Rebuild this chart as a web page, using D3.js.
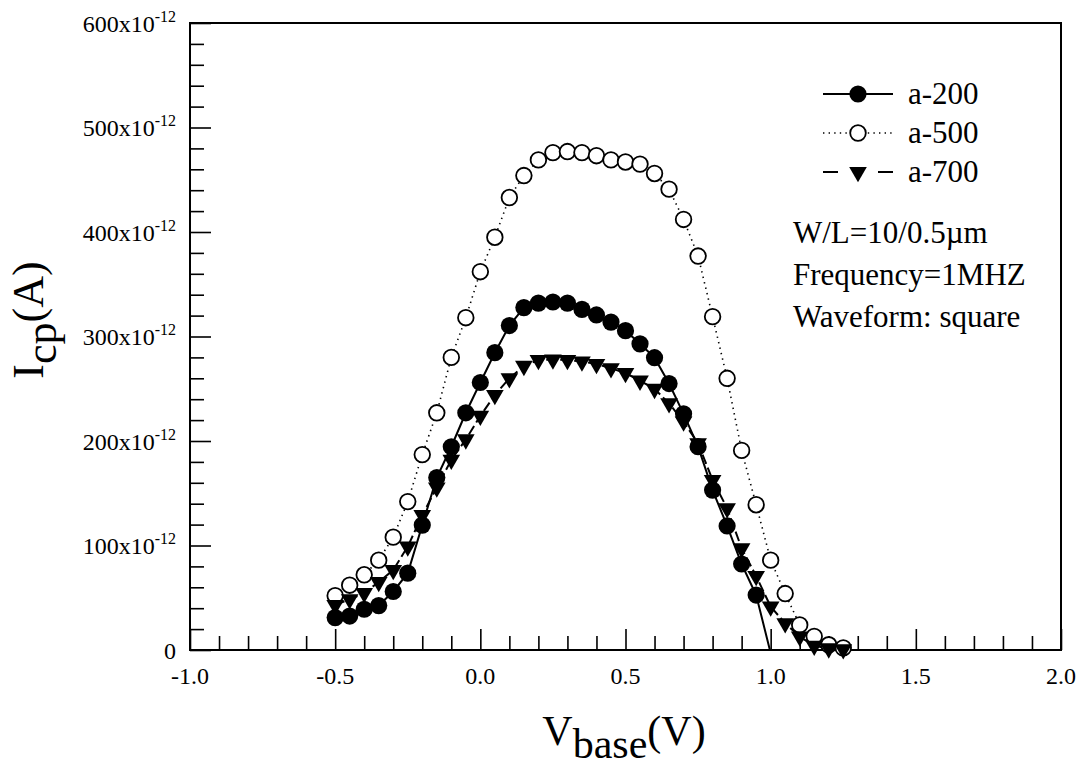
<!DOCTYPE html>
<html>
<head>
<meta charset="utf-8">
<script src="https://cdn.jsdelivr.net/npm/d3@7"></script>
<style>
  body { margin: 0; background: #fff; }
  text { font-family: "Liberation Serif", "Times New Roman", serif; fill: #000; }
</style>
</head>
<body>
<div id="chart"></div>
<script>
// data (current in units of 1e-12 A)
const vbase = [-0.5, -0.45, -0.4, -0.35, -0.3, -0.25, -0.2, -0.15, -0.1, -0.05,
  0.0, 0.05, 0.1, 0.15, 0.2, 0.25, 0.3, 0.35, 0.4, 0.45,
  0.5, 0.55, 0.6, 0.65, 0.7, 0.75, 0.8, 0.85, 0.9, 0.95,
  1.0, 1.05, 1.1, 1.15, 1.2, 1.25];

const a200 = [31, 32.5, 39, 42.5, 56, 73.5, 119.5, 165, 194.5, 227,
  256, 284.5, 310.5, 327.7, 332, 333, 332, 326, 320.6, 313.8,
  305.6, 293, 279.7, 255, 226, 194.6, 153, 118.7, 82.3, 52.6,
  -3];

const a500 = [52, 62, 72, 86, 108, 142, 187, 227, 280, 318,
  362, 395, 433, 454, 469, 476, 477, 476, 473, 469,
  467, 465, 456, 441, 412, 377, 319, 260, 191, 139,
  86, 54, 24, 13, 5, 2];

const a700 = [43, 48.5, 54.5, 65, 76.5, 99, 129, 155.5, 182, 201.5,
  224, 244, 260, 271.8, 277.5, 278, 277.5, 276, 273.7, 269.6,
  265, 257.7, 249.8, 236, 218.5, 197.8, 162.7, 135.6, 97.3, 70.8,
  41.5, 25.5, 12.8, 4, 1.5, 0.6];

const seriesNames = ['a-200', 'a-500', 'a-700'];
const yMajorTicks = [0, 100, 200, 300, 400, 500, 600];
const xMajorTicks = [-1.0, -0.5, 0.0, 0.5, 1.0, 1.5, 2.0];
const infoLines = ['W/L=10/0.5\u00b5m', 'Frequency=1MHZ', 'Waveform: square'];

const W = 1083, H = 767;
const margin = { top: 23, right: 22, bottom: 117, left: 190 };
const width = W - margin.left - margin.right;
const height = H - margin.top - margin.bottom;

const svg = d3.select('#chart').append('svg')
  .attr('width', W).attr('height', H);

const g = svg.append('g')
  .attr('transform', `translate(${margin.left},${margin.top})`);

const x = d3.scaleLinear().domain([-1, 2]).range([0, width]);
const y = d3.scaleLinear().domain([0, 600]).range([height, 0]);

g.append('clipPath').attr('id', 'plot-clip')
  .append('rect').attr('width', width).attr('height', height);

// axes: ticks point inward
const xAxis = d3.axisTop(x)
  .tickValues(d3.range(-10, 21).map(d => d / 10))
  .tickSize(14).tickFormat('');
const yAxis = d3.axisRight(y)
  .tickValues(d3.range(0, 601, 20))
  .tickSize(14).tickFormat('');

g.append('g').attr('class', 'x-axis')
  .attr('transform', `translate(0,${height})`)
  .call(xAxis);
g.append('g').attr('class', 'y-axis')
  .call(yAxis);

g.selectAll('.x-axis .tick line')
  .attr('y2', d => Math.abs(Math.round(d * 10) % 5) === 0 ? -21 : -14);
g.selectAll('.y-axis .tick line')
  .attr('x2', d => d % 100 === 0 ? 21 : 14);
g.selectAll('.domain').remove();
g.selectAll('.tick line').style('stroke', '#000').style('stroke-width', '1.6px');

// frame
g.append('rect')
  .attr('width', width).attr('height', height)
  .style('fill', 'none').style('stroke', '#000').style('stroke-width', '2px');

// tick labels
g.selectAll('.xlab').data(xMajorTicks).enter().append('text')
  .attr('class', 'xlab')
  .attr('x', d => x(d)).attr('y', height + 34)
  .attr('text-anchor', 'middle')
  .style('font-size', '24px')
  .text(d => d.toFixed(1));

const ylab = g.selectAll('.ylab').data(yMajorTicks).enter().append('text')
  .attr('class', 'ylab')
  .attr('x', -14).attr('y', d => y(d) + 8.5)
  .attr('text-anchor', 'end')
  .style('font-size', '24px');
ylab.filter(d => d === 0).text('0');
ylab.filter(d => d !== 0).each(function(d) {
  const t = d3.select(this);
  t.append('tspan').text(d + 'x10');
  t.append('tspan').attr('dy', -10).style('font-size', '16px').text('-12');
});

// axis titles
const xt = svg.append('text')
  .attr('x', 624).attr('y', 745)
  .attr('text-anchor', 'middle')
  .style('font-size', '42px');
xt.append('tspan').text('V');
xt.append('tspan').attr('dy', 13).text('base');
xt.append('tspan').attr('dy', -13).text('(V)');

const yt = svg.append('text')
  .attr('transform', 'translate(43,320) rotate(-90)')
  .attr('text-anchor', 'middle')
  .style('font-size', '44px');
yt.append('tspan').text('I');
yt.append('tspan').attr('dy', 13).text('cp');
yt.append('tspan').attr('dy', -13).text('(A)');

// series
const rows = (vals) => vals.map((v, i) => ({ x: vbase[i], y: v }));
const series = [
  { name: seriesNames[0], data: rows(a200), dash: null, width: 2, symbol: 'fill' },
  { name: seriesNames[1], data: rows(a500), dash: '1.4,4.2', width: 1.6, symbol: 'open' },
  { name: seriesNames[2], data: rows(a700), dash: '10,4', width: 2, symbol: 'tri' }
];
const drawOrder = [series[1], series[0], series[2]];

const line = d3.line().x(d => x(d.x)).y(d => y(d.y));
const triangle = d3.symbol().type(d3.symbolTriangle).size(135);

function drawMarker(sel, kind) {
  if (kind === 'tri') {
    sel.append('path').attr('d', triangle)
      .attr('transform', 'rotate(180)')
      .style('fill', '#000');
  } else {
    sel.append('circle').attr('r', kind === 'open' ? 7.8 : 8.6)
      .style('fill', kind === 'open' ? '#fff' : '#000')
      .style('stroke', '#000')
      .style('stroke-width', kind === 'open' ? '1.8px' : '0');
  }
}

drawOrder.forEach(s => {
  g.append('path')
    .datum(s.data)
    .attr('clip-path', 'url(#plot-clip)')
    .attr('d', line)
    .style('fill', 'none')
    .style('stroke', '#000')
    .style('stroke-width', s.width + 'px')
    .style('stroke-dasharray', s.dash);

  g.selectAll(null).data(s.data.filter(d => d.y > 0)).enter().append('g')
    .attr('transform', d => `translate(${x(d.x)},${y(d.y)})`)
    .call(sel => drawMarker(sel, s.symbol));
});

// legend
const legY = [94, 133, 172];
const leg = svg.append('g');
series.forEach((s, i) => {
  const row = leg.append('g').attr('transform', `translate(858,${legY[i]})`);
  row.append('line')
    .attr('x1', -35).attr('x2', 35)
    .style('stroke', '#000')
    .style('stroke-width', s.width + 'px')
    .style('stroke-dasharray', s.symbol === 'tri' ? '15,40,15' : s.dash);
  drawMarker(row.append('g'), s.symbol);
  row.append('text')
    .attr('x', 50).attr('y', 10)
    .style('font-size', '31px')
    .text(s.name);
});

leg.selectAll('.info').data(infoLines).enter().append('text')
  .attr('class', 'info')
  .attr('x', 793).attr('y', (d, i) => 243 + i * 42)
  .style('font-size', '31px')
  .text(d => d);
</script>
</body>
</html>
